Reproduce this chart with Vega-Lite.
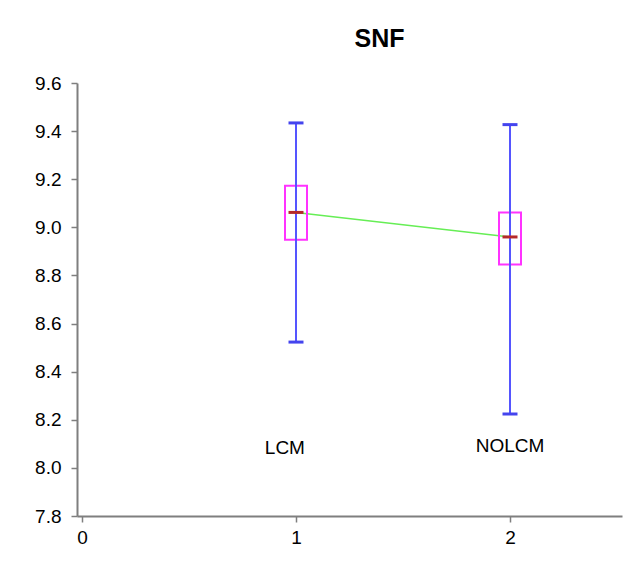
{
  "$schema": "https://vega.github.io/schema/vega-lite/v6.json",
  "width": 545,
  "height": 433,
  "autosize": {"type": "none"},
  "padding": {"left": 77, "top": 83, "right": 10, "bottom": 47},
  "background": "white",
  "title": {
    "text": "SNF",
    "font": "Liberation Sans",
    "fontSize": 25,
    "fontWeight": "bold",
    "color": "black",
    "anchor": "middle",
    "dx": 30,
    "offset": 22
  },
  "config": {
    "view": {"stroke": null},
    "axis": {
      "grid": false,
      "labelFont": "Liberation Sans",
      "labelFontSize": 19,
      "labelColor": "black",
      "domainColor": "#7f7f7f",
      "domainWidth": 2,
      "tickColor": "#7f7f7f",
      "tickWidth": 1.5,
      "tickSize": 6,
      "labelPadding": 8,
      "title": null
    }
  },
  "data": {
    "values": [
      {"x": 1, "group": "LCM", "lo": 8.523, "q1": 8.948, "med": 9.062, "q3": 9.173, "hi": 9.434, "lx": 0.948, "ly": 8.082},
      {"x": 2, "group": "NOLCM", "lo": 8.224, "q1": 8.845, "med": 8.96, "q3": 9.062, "hi": 9.427, "lx": 2.0, "ly": 8.09}
    ]
  },
  "encoding": {
    "x": {
      "field": "x",
      "type": "quantitative",
      "scale": {"domain": [0, 2.5], "nice": false, "zero": false},
      "axis": {"values": [0, 1, 2], "format": "d", "labelPadding": 6}
    }
  },
  "layer": [
    {
      "mark": {"type": "line", "color": "#66ee55", "strokeWidth": 1.5},
      "encoding": {
        "y": {
          "field": "med",
          "type": "quantitative",
          "scale": {"domain": [7.8, 9.6], "nice": false, "zero": false},
          "axis": {"values": [7.8, 8.0, 8.2, 8.4, 8.6, 8.8, 9.0, 9.2, 9.4, 9.6], "format": ".1f", "labelPadding": 10}
        }
      }
    },
    {
      "mark": {"type": "bar", "orient": "vertical", "size": 22, "fill": "white", "fillOpacity": 0, "stroke": "#ff33ff", "strokeWidth": 2},
      "encoding": {
        "y": {"field": "q1", "type": "quantitative"},
        "y2": {"field": "q3"}
      }
    },
    {
      "mark": {"type": "rule", "color": "#5555ff", "strokeWidth": 2},
      "encoding": {
        "y": {"field": "lo", "type": "quantitative"},
        "y2": {"field": "hi"}
      }
    },
    {
      "mark": {"type": "tick", "orient": "horizontal", "size": 15, "thickness": 3, "color": "#4444ee", "opacity": 1},
      "encoding": {"y": {"field": "lo", "type": "quantitative"}}
    },
    {
      "mark": {"type": "tick", "orient": "horizontal", "size": 15, "thickness": 3, "color": "#4444ee", "opacity": 1},
      "encoding": {"y": {"field": "hi", "type": "quantitative"}}
    },
    {
      "mark": {"type": "tick", "orient": "horizontal", "size": 15, "thickness": 3, "color": "#b52a2a", "opacity": 1},
      "encoding": {"y": {"field": "med", "type": "quantitative"}}
    },
    {
      "mark": {"type": "text", "font": "Liberation Sans", "fontSize": 19, "color": "black", "baseline": "middle", "align": "center"},
      "encoding": {
        "x": {"field": "lx", "type": "quantitative"},
        "y": {"field": "ly", "type": "quantitative"},
        "text": {"field": "group"}
      }
    }
  ]
}
